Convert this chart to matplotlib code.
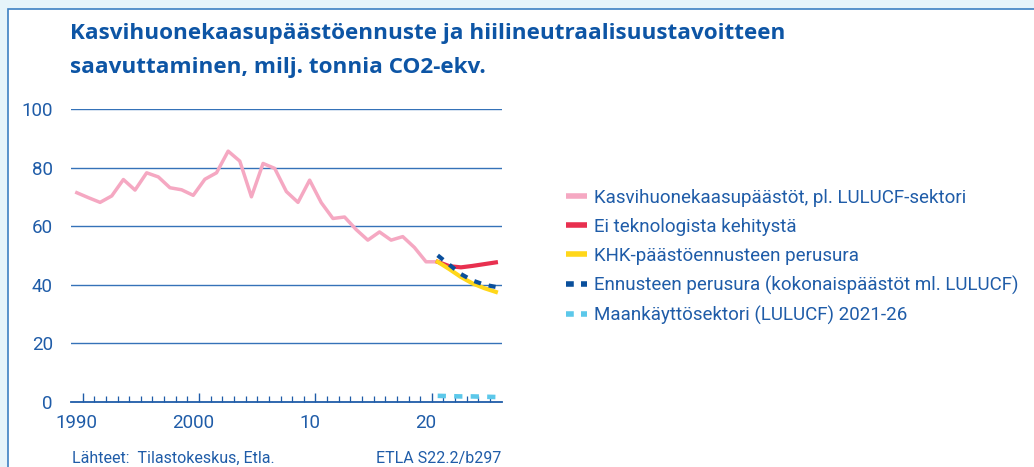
import matplotlib

matplotlib.use("Agg")

import matplotlib.pyplot as plt
import numpy as np
from matplotlib.lines import Line2D
from matplotlib.patches import Rectangle
from matplotlib.ticker import FixedLocator
from matplotlib.transforms import ScaledTranslation

plt.rcParams["font.family"] = ["Roboto", "DejaVu Sans"]

# --- data (milj. tonnia CO2-ekv.) ---
hist_years = list(range(1990, 2022))
hist_ghg = [71.4, 69.7, 68.1, 70.3, 75.9, 72.3, 78.2, 76.8, 73.1, 72.4,
            70.5, 76.0, 78.2, 85.6, 82.2, 70.0, 81.4, 79.7, 71.8, 68.1,
            75.7, 68.0, 62.6, 63.1, 58.8, 55.2, 58.0, 55.2, 56.4, 52.7,
            47.8, 47.8]

fc_years = list(range(2021, 2027))
no_tech = [47.8, 46.3, 45.9, 46.4, 47.0, 47.6]
base_ghg = [47.8, 45.3, 42.6, 40.4, 38.8, 37.5]
base_total = [50.0, 46.8, 43.6, 41.4, 40.0, 39.2]
lulucf = [2.0, 1.9, 1.8, 1.8, 1.7, 1.6]

labels = [
    "Kasvihuonekaasupäästöt, pl. LULUCF-sektori",
    "Ei teknologista kehitystä",
    "KHK-päästöennusteen perusura",
    "Ennusteen perusura (kokonaispäästöt ml. LULUCF)",
    "Maankäyttösektori (LULUCF) 2021-26",
]
yticks = [0, 20, 40, 60, 80, 100]
xmajor = [1990, 2000, 2010, 2020]
xmajor_labels = ["1990", "2000", "10", "20"]

TITLE = "#0d55a5"
TEXT = "#1f5ca8"
GRID = "#3572b8"
PINK = "#f5a8c2"
RED = "#e8304f"
YELLOW = "#ffd71a"
DARK = "#0a4f9c"
LIGHT = "#5cc8ea"

fig = plt.figure(figsize=(10.34, 4.67), dpi=100)
fig.patch.set_facecolor("#e6f4fa")
fig.patches.append(
    Rectangle((8 / 1034, -0.01), 1.0, 1 - 9 / 467 + 0.01, transform=fig.transFigure,
              facecolor="white", edgecolor="#3d80c2", linewidth=1.2, zorder=-5)
)

ax = fig.add_axes([71 / 1034, 65.3 / 467, 430.7 / 1034, 292.7 / 467])
ax.set_facecolor("none")


def pos(years):
    # values are drawn in the middle of each year slot
    return np.array(years) - 0.5


for y in yticks[1:]:
    ax.axhline(y, color=GRID, lw=1.0, zorder=1)

ax.plot(pos(hist_years), hist_ghg, color=PINK, lw=2.5, zorder=3)
ax.plot(pos(fc_years), no_tech, color=RED, lw=3.0, zorder=4)
ax.plot(pos(fc_years), base_ghg, color=YELLOW, lw=3.0, zorder=5)
ax.plot(pos(fc_years), base_total, color=DARK, lw=3.0, dashes=(1.7, 1.9), zorder=6)
ax.plot(pos(fc_years), lulucf, color=LIGHT, lw=3.3, dashes=(1.8, 1.8), zorder=6)

ax.set_xlim(1989, 2026)
ax.set_ylim(0, 100)
for side in ("top", "right", "left"):
    ax.spines[side].set_visible(False)
ax.spines["bottom"].set_color(TEXT)
ax.spines["bottom"].set_linewidth(1.3)

ax.xaxis.set_major_locator(FixedLocator(xmajor))
ax.xaxis.set_minor_locator(FixedLocator([y for y in range(1991, 2026) if y not in xmajor]))
ax.set_xticklabels(xmajor_labels)
ax.tick_params(axis="x", which="major", direction="in", length=6.5, width=1.0,
               color=TEXT, labelcolor=TEXT, labelsize=13.5, pad=9)
ax.tick_params(axis="x", which="minor", direction="in", length=4, width=0.9, color=TEXT)
# year labels sit in the middle of the year slot, left of the tick
shift = ScaledTranslation(-0.058, 0, fig.dpi_scale_trans)
for lbl in ax.get_xticklabels():
    lbl.set_transform(lbl.get_transform() + shift)
ax.set_yticks(yticks)
ax.tick_params(axis="y", length=0, labelcolor=TEXT, labelsize=13.5, pad=13)

handles = [
    Line2D([], [], color=PINK, lw=4, solid_capstyle="butt"),
    Line2D([], [], color=RED, lw=4, solid_capstyle="butt"),
    Line2D([], [], color=YELLOW, lw=4, solid_capstyle="butt"),
    Line2D([], [], color=DARK, lw=4, dashes=(1.4, 1.3)),
    Line2D([], [], color=LIGHT, lw=4, dashes=(1.4, 1.3)),
]
leg = fig.legend(handles, labels, loc="upper left", bbox_to_anchor=(566 / 1034, 1 - 189 / 467),
                 frameon=False, fontsize=13.5, handlelength=1.1, handletextpad=0.4,
                 labelspacing=0.58, borderaxespad=0, borderpad=0)
for t in leg.get_texts():
    t.set_color(TEXT)

title_font = dict(color=TITLE, fontsize=16.2, fontweight="bold", va="baseline",
                  family=["Open Sans", "DejaVu Sans"])
fig.text(70 / 1034, 1 - 38.5 / 467, "Kasvihuonekaasupäästöennuste ja hiilineutraalisuustavoitteen",
         **title_font)
fig.text(70 / 1034, 1 - 73.5 / 467, "saavuttaminen, milj. tonnia CO2-ekv.", **title_font)

fig.text(72 / 1034, 1 - 463 / 467, "Lähteet:  Tilastokeskus, Etla.", color=TEXT,
         fontsize=11.5, va="baseline")
fig.text(501 / 1034, 1 - 463 / 467, "ETLA S22.2/b297", color=TEXT, fontsize=11.5,
         va="baseline", ha="right")

fig.savefig("out.png", dpi=100, facecolor=fig.get_facecolor())
